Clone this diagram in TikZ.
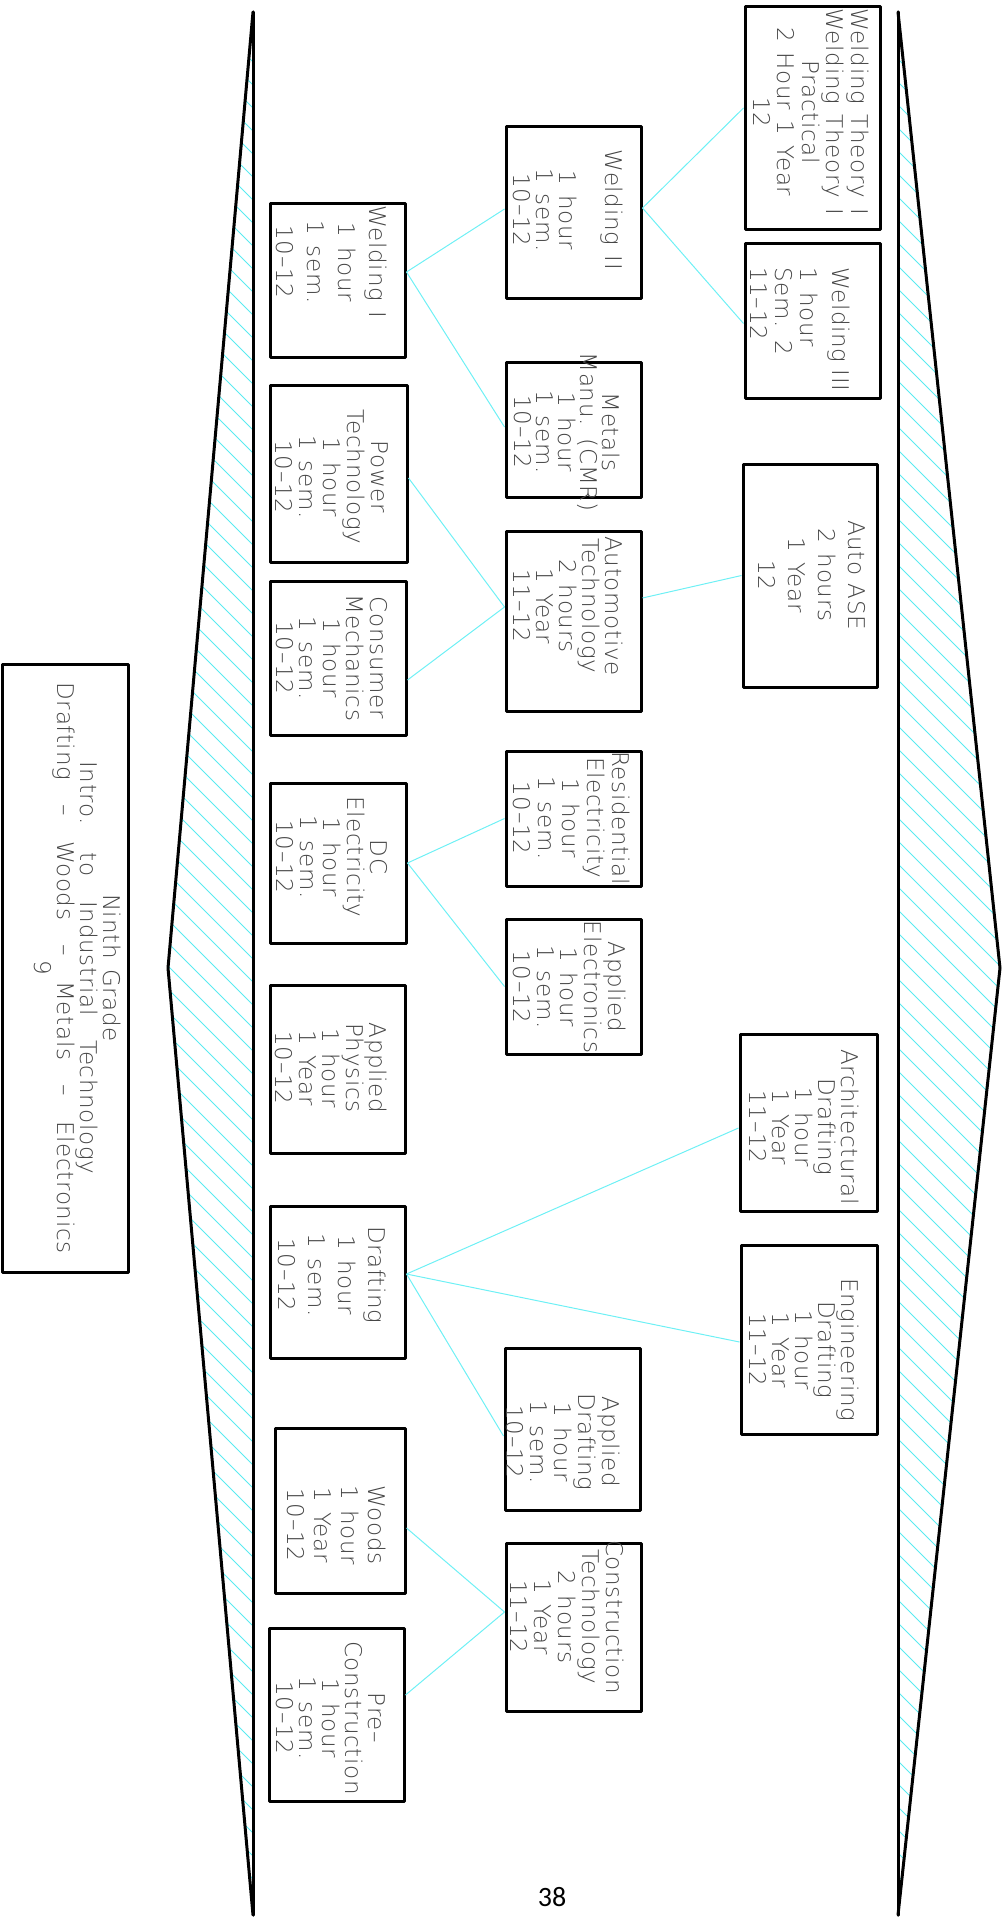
\documentclass[tikz,border=0pt]{standalone}
\usepackage{fontspec}
\setmainfont{DejaVu Sans ExtraLight}[LetterSpace=3,WordSpace=1.3]
\newfontfamily\widefont{DejaVu Sans ExtraLight}[LetterSpace=3,WordSpace=3.1]
\newfontfamily\numfont{Carlito}
\definecolor{hatchc}{RGB}{90,235,240}
\definecolor{linkc}{RGB}{110,240,245}
\definecolor{textgray}{RGB}{70,70,70}
\newcommand\tfs[1]{\fontsize{23pt}{#1pt}\selectfont}
\begin{document}
\begin{tikzpicture}[x=1pt,y=-1pt,
  box/.style={draw=black, line width=3pt, line join=round, inner sep=0pt},
  txt/.style={rotate=-90, align=center, text=textgray, inner sep=0pt},
  link/.style={draw=linkc, line width=1pt},
  hatch/.style={draw=hatchc, line width=1pt},
  brk/.style={draw=black, line width=3pt, line join=round, line cap=round}]
\useasboundingbox (0,0) rectangle (1008,1919);

% hatching
\begin{scope}
\clip (253,12) -- (168,968) -- (253,1915) -- cycle;
\foreach \c in {-260,-237,...,1760} \draw[hatch] (150,{\c+150}) -- (260,{\c+260});
\end{scope}
\begin{scope}
\clip (898,12) -- (1000,968) -- (898,1915) -- cycle;
\foreach \c in {-1000,-977,...,1030} \draw[hatch] (890,{\c+890}) -- (1010,{\c+1010});
\end{scope}

% brackets
\coordinate (ltop) at (253,12);
\coordinate (lmid) at (168,968);
\coordinate (lbot) at (253,1915);
\coordinate (rtop) at (898,12);
\coordinate (rmid) at (1000,968);
\coordinate (rbot) at (898,1915);
\draw[brk] (ltop) -- (lbot);
\draw[brk] (ltop) -- (lmid) -- (lbot);
\draw[brk] (rtop) -- (rbot);
\draw[brk] (rtop) -- (rmid) -- (rbot);

% boxes
\node[box, minimum width=126pt, minimum height=608pt] (nine) at (65,968) {};
\node[box, minimum width=135pt, minimum height=154pt] (w1) at (337.5,280) {};
\node[box, minimum width=137pt, minimum height=177pt] (pt) at (338.5,473.5) {};
\node[box, minimum width=136pt, minimum height=154pt] (cm) at (338,658) {};
\node[box, minimum width=136pt, minimum height=160pt] (dc) at (338,863) {};
\node[box, minimum width=135pt, minimum height=168pt] (ap) at (337.5,1069) {};
\node[box, minimum width=135pt, minimum height=152pt] (dr) at (337.5,1282) {};
\node[box, minimum width=130pt, minimum height=165pt] (wo) at (340,1510.5) {};
\node[box, minimum width=135pt, minimum height=173pt] (pc) at (336.5,1714.5) {};
\node[box, minimum width=135pt, minimum height=172pt] (w2) at (573.5,212) {};
\node[box, minimum width=135pt, minimum height=135pt] (mm) at (573.5,429.5) {};
\node[box, minimum width=135pt, minimum height=180pt] (at) at (573.5,621) {};
\node[box, minimum width=135pt, minimum height=135pt] (re) at (573.5,818.5) {};
\node[box, minimum width=135pt, minimum height=135pt] (ae) at (573.5,986.5) {};
\node[box, minimum width=135pt, minimum height=162pt] (ad) at (572.5,1429) {};
\node[box, minimum width=135pt, minimum height=168pt] (ct) at (573.5,1627) {};
\node[box, minimum width=135pt, minimum height=222pt] (wt) at (812.5,118) {};
\node[box, minimum width=135pt, minimum height=155pt] (w3) at (812.5,320.5) {};
\node[box, minimum width=134pt, minimum height=223pt] (ase) at (810,575.5) {};
\node[box, minimum width=137pt, minimum height=177pt] (arch) at (808.5,1122.5) {};
\node[box, minimum width=136pt, minimum height=189pt] (eng) at (809,1339.5) {};

% texts
\node[txt, font=\tfs{23}] (ninet) at (77.5,968) {Ninth Grade\\{\widefont Intro. to Industrial Technology}\\{\widefont Drafting – Woods – Metals – Electronics}\\9};
\node[txt, font=\tfs{31}] (w1t) at (332,262) {Welding I\\1 hour\\1 sem.\\10–12};
\node[txt, font=\tfs{24}] (ptt) at (332,477) {Power\\Technology\\1 hour\\1 sem.\\10–12};
\node[txt, font=\tfs{23.5}] (cmt) at (331.5,658) {Consumer\\Mechanics\\1 hour\\1 sem.\\10–12};
\node[txt, font=\tfs{23.5}] (dct) at (332,857) {DC\\Electricity\\1 hour\\1 sem.\\10–12};
\node[txt, font=\tfs{23.5}] (apt) at (331.5,1068) {Applied\\Physics\\1 hour\\1 Year\\10–12};
\node[txt, font=\tfs{30}] (drt) at (332,1275) {Drafting\\1 hour\\1 sem.\\10–12};
\node[txt, font=\tfs{27}] (wot) at (336.5,1525) {Woods\\1 hour\\1 Year\\10–12};
\node[txt, font=\tfs{23}] (pct) at (331,1718) {Pre–\\Construction\\1 hour\\1 sem.\\10–12};
\node[txt, font=\tfs{23}] (w2t) at (568,210) {Welding II\\[23pt]1 hour\\1 sem.\\10–12};
\node[txt, font=\tfs{22}] (mmt) at (567.5,432) {Metals\\Manu. (CMR)\\1 hour\\1 sem.\\10–12};
\node[txt, font=\tfs{23}] (att) at (568,606) {Automotive\\Technology\\2 hours\\1 Year\\11–12};
\node[txt, font=\tfs{24.75}] (ret) at (571.5,818) {Residential\\Electricity\\1 hour\\1 sem.\\10–12};
\node[txt, font=\tfs{23.75}] (aet) at (569.5,987) {Applied\\Electronics\\1 hour\\1 sem.\\10–12};
\node[txt, font=\tfs{24}] (adt) at (563.5,1442) {Applied\\Drafting\\1 hour\\1 sem.\\10–12};
\node[txt, font=\tfs{24}] (ctt) at (567.5,1617) {Construction\\Technology\\2 hours\\1 Year\\11–12};
\node[txt, font=\tfs{24.5}] (wtt) at (811,112) {Welding Theory I\\Welding Theory I\\Practical\\2 Hour 1 Year\\12};
\node[txt, font=\tfs{25}, align=left, anchor=west] (w3t) at (800.5,267) {Welding\hspace{7pt}III\\[7pt]1 hour\\Sem. 2\\11–12};
\node[txt, font=\tfs{30}] (aset) at (812,575) {Auto\hspace{8pt}ASE\\2 hours\\1 Year\\12};
\node[txt, font=\tfs{23}] (archt) at (804,1127) {Architectural\\Drafting\\1 hour\\1 Year\\11–12};
\node[txt, font=\tfs{23}] (engt) at (804,1350) {Engineering\\Drafting\\1 hour\\1 Year\\11–12};

% connectors
\draw[link] ([yshift=8pt]w1.east) -- ([yshift=3pt]w2.west);
\draw[link] ([yshift=8pt]w1.east) -- ([yshift=2.5pt]mm.west);
\draw[link] ([yshift=4pt]w2.east) -- ([yshift=10pt]wt.west);
\draw[link] ([yshift=4pt]w2.east) -- ([yshift=-3pt]w3.west);
\draw[link] ([yshift=-4.5pt]pt.east) -- ([yshift=14pt]at.west);
\draw[link] ([yshift=-22pt]cm.east) -- ([yshift=14pt]at.west);
\draw[link] ([yshift=23pt]at.east) -- (ase.west);
\draw[link] (dc.east) -- (re.west);
\draw[link] (dc.east) -- (ae.west);
\draw[link] ([yshift=8pt]dr.east) -- ([yshift=-5.5pt]arch.west);
\draw[link] ([yshift=8pt]dr.east) -- ([yshift=-2.5pt]eng.west);
\draw[link] ([yshift=8pt]dr.east) -- ([yshift=-7pt]ad.west);
\draw[link] ([yshift=-17.5pt]wo.east) -- ([yshift=15pt]ct.west);
\draw[link] ([yshift=19.5pt]pc.east) -- ([yshift=15pt]ct.west);

\node[font=\numfont\fontsize{28pt}{30pt}\selectfont, text=black] (pagenum) at (552,1897) {38};
\end{tikzpicture}
\end{document}
